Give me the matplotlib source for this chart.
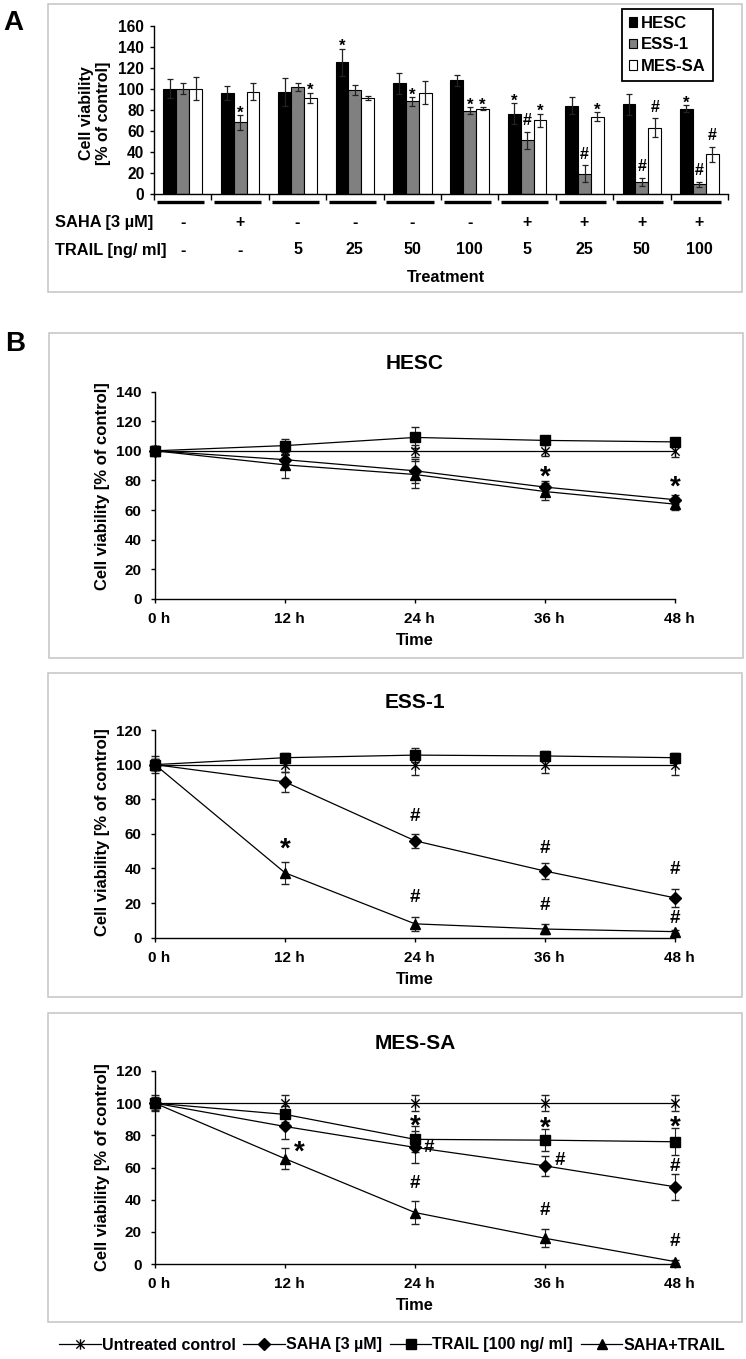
import matplotlib
matplotlib.use('Agg')
import matplotlib.pyplot as plt
import matplotlib.transforms as mtransforms
from matplotlib.lines import Line2D
from matplotlib.patches import Patch, Rectangle
from matplotlib.path import Path
import numpy as np

plt.rcParams['font.family'] = ['Liberation Sans', 'DejaVu Sans']
plt.rcParams['font.weight'] = 'bold'
plt.rcParams['axes.linewidth'] = 1.0

# ---------------- Panel A data ----------------
cell_lines = ['HESC', 'ESS-1', 'MES-SA']
saha_row = ['-', '+', '-', '-', '-', '-', '+', '+', '+', '+']
trail_row = ['-', '-', '5', '25', '50', '100', '5', '25', '50', '100']
hesc_bar = [100, 96, 97, 125, 105, 108, 76, 84, 85, 81]
hesc_bar_err = [9, 7, 13, 13, 10, 5, 10, 8, 10, 3.5]
ess_bar = [100, 68, 101.5, 99, 88, 79, 51, 19, 11, 9]
ess_bar_err = [5, 7, 4, 5, 4, 3.5, 8, 8, 4, 2.5]
mes_bar = [100, 97, 91, 91, 96, 81, 70, 73.5, 63, 37.5]
mes_bar_err = [11, 8, 5, 2, 11, 1.5, 6, 4, 9, 7]
hesc_bar_sig = ['', '', '', '*', '', '', '*', '', '', '*']
ess_bar_sig = ['', '*', '', '', '*', '*', '#', '#', '#', '#']
mes_bar_sig = ['', '', '*', '', '', '*', '*', '*', '#', '#']

# ---------------- Panel B data ----------------
times = [0, 12, 24, 36, 48]
time_labels = ['0 h', '12 h', '24 h', '36 h', '48 h']
series_names = ['Untreated control', 'SAHA [3 µM]', 'TRAIL [100 ng/ ml]', 'SAHA+TRAIL']

hesc_ctrl = [100, 100, 100, 100, 100]
hesc_ctrl_err = [2, 2, 4, 3.7, 4.5]
hesc_saha = [100, 94, 86.5, 75.5, 67]
hesc_saha_err = [3, 3, 8, 4, 3]
hesc_trail = [100, 103.5, 109, 107, 106]
hesc_trail_err = [3, 4.5, 7, 2, 2]
hesc_combo = [100, 90.5, 84, 72.5, 64]
hesc_combo_err = [3, 9, 9, 6, 4]

ess_ctrl = [100, 100, 100, 100, 100]
ess_ctrl_err = [3, 4, 6, 5, 6]
ess_saha = [100, 90, 56, 38.5, 23]
ess_saha_err = [3, 6, 4, 4.5, 5]
ess_trail = [100, 104, 105.5, 105, 104]
ess_trail_err = [5, 3, 4, 3, 3]
ess_combo = [100, 37.5, 8, 5, 3.5]
ess_combo_err = [3, 6.5, 4, 3, 1]

mes_ctrl = [100, 100, 100, 100, 100]
mes_ctrl_err = [5, 5, 5, 5, 5]
mes_saha = [100, 85.5, 72.5, 61, 48]
mes_saha_err = [3, 8, 10, 6, 8]
mes_trail = [100, 93, 77.5, 77, 76]
mes_trail_err = [4, 5, 8, 7, 8.5]
mes_combo = [100, 65.5, 32, 16, 1.5]
mes_combo_err = [3, 6.5, 7, 5.5, 1]

# significance marks: (series index, time index, symbol, placement, dx px, dy px)
hesc_marks = [(1, 3, '*', 'above', 0, 10), (1, 4, '*', 'above', 0, 14)]
ess_marks = [(3, 1, '*', 'above', 0, 18), (1, 2, '#', 'above', 0, 17), (3, 2, '#', 'above', 0, 19),
             (1, 3, '#', 'above', 0, 15), (3, 3, '#', 'above', 0, 18), (1, 4, '#', 'above', 0, 20),
             (3, 4, '#', 'above', 0, 11)]
mes_marks = [(3, 1, '*', 'right', 14, 12), (2, 2, '*', 'above', 0, 6), (1, 2, '#', 'right', 14, 0),
             (2, 3, '*', 'above', 0, 7), (1, 3, '#', 'right', 15, 5), (2, 4, '*', 'above', 0, 6.5),
             (1, 4, '#', 'above', 0, 7), (3, 2, '#', 'above', 0, 17.5), (3, 3, '#', 'above', 0, 18.5),
             (3, 4, '#', 'above', 0, 18.5)]

# ---------------- figure ----------------
W, H = 746, 1359
fig = plt.figure(figsize=(W / 100, H / 100), dpi=100)


def fx(px):
    return px / W


def fy(py):
    return 1 - py / H


def rect(l, r, t, b):
    return [fx(l), fy(b), fx(r) - fx(l), fy(t) - fy(b)]


def px2pt(p):
    return p * 0.72


# panel frames
for (l, r, t, b) in [(48, 742, 4, 292), (48.5, 742.5, 332.7, 658), (48, 742, 672.7, 997), (48, 742, 1012.7, 1322)]:
    fig.add_artist(Rectangle((fx(l), fy(b)), fx(r) - fx(l), fy(t) - fy(b), transform=fig.transFigure,
                             fill=False, edgecolor='#c4c4c4', linewidth=1.1))

fig.text(fx(3), fy(22.5), 'A', fontsize=20, fontweight='bold', va='center', ha='left')
fig.text(fx(5), fy(344), 'B', fontsize=20, fontweight='bold', va='center', ha='left')

# ---------------- Panel A ----------------
axA = fig.add_axes(rect(154, 728, 25.7, 193.7))
x = np.arange(len(saha_row))
bw = 0.223
bar_colors = ['black', '#808080', 'white']
bar_vals = [hesc_bar, ess_bar, mes_bar]
bar_errs = [hesc_bar_err, ess_bar_err, mes_bar_err]
bar_sigs = [hesc_bar_sig, ess_bar_sig, mes_bar_sig]
for k in range(3):
    pos = x + (k - 1) * bw
    axA.bar(pos, bar_vals[k], bw, color=bar_colors[k], edgecolor='black', linewidth=0.8,
            yerr=bar_errs[k], capsize=2.5,
            error_kw=dict(ecolor='#222222', elinewidth=0.9, capthick=0.9), label=cell_lines[k])
    for p, v, e, s in zip(pos, bar_vals[k], bar_errs[k], bar_sigs[k]):
        if not s:
            continue
        if s == '*':
            axA.annotate(s, (p, v + e), xytext=(0, px2pt(6) - 0.23 * 12), textcoords='offset points',
                         ha='center', va='center', fontsize=12, fontweight='bold')
        else:
            axA.annotate(s, (p, v + e), xytext=(0, px2pt(11)), textcoords='offset points',
                         ha='center', va='center', fontsize=11.5, fontweight='bold')

axA.set_xlim(-0.5, len(saha_row) - 0.5)
axA.set_ylim(0, 160)
axA.set_yticks(np.arange(0, 161, 20))
axA.set_xticks([])
axA.set_xticks(np.arange(-0.5, len(saha_row), 1), minor=True)
axA.tick_params(axis='x', which='minor', direction='out', length=4, width=1, labelbottom=False)
axA.tick_params(axis='y', direction='out', length=3, width=1, labelsize=11.2, pad=4)
for sp in ['top', 'right']:
    axA.spines[sp].set_visible(False)
axA.set_ylabel('Cell viability\n[% of control]', fontsize=11.5, fontweight='bold', linespacing=1.15)
axA.yaxis.set_label_coords(-(154 - 111) / 574, (193.7 - 113.5) / 168)

blendA = mtransforms.blended_transform_factory(axA.transData, axA.transAxes)
for i in x:
    axA.plot([i - 0.45, i + 0.37], [-0.05, -0.05], color='black', lw=2.4, transform=blendA,
             clip_on=False, solid_capstyle='butt')
    axA.text(i, (193.7 - 222) / 168, saha_row[i], transform=blendA, ha='center', va='center',
             fontsize=11.5, fontweight='bold')
    axA.text(i, (193.7 - 250) / 168, trail_row[i], transform=blendA, ha='center', va='center',
             fontsize=11.5, fontweight='bold')
fig.text(fx(55), fy(222), 'SAHA [3 µM]', ha='left', va='center', fontsize=11.8, fontweight='bold')
fig.text(fx(55), fy(250), 'TRAIL [ng/ ml]', ha='left', va='center', fontsize=11.8, fontweight='bold')
axA.text((446 - 154) / 574, (193.7 - 278) / 168, 'Treatment', transform=axA.transAxes, ha='center',
         va='center', fontsize=11.8, fontweight='bold')

legA = axA.legend(handles=[Patch(facecolor=c, edgecolor='black', linewidth=0.8) for c in bar_colors],
                  labels=cell_lines, loc='upper left', bbox_to_anchor=(fx(622), fy(9)),
                  bbox_transform=fig.transFigure, borderaxespad=0, fontsize=12, frameon=True,
                  fancybox=False, framealpha=1, edgecolor='black', handlelength=0.5, handleheight=0.5,
                  handletextpad=0.25, labelspacing=0.4, borderpad=0.4)
legA.get_frame().set_linewidth(1.3)

# ---------------- Panel B ----------------
star_path = Path([(-1, -1), (1, 1), (-1, 1), (1, -1), (0, -1.25), (0, 1.25)],
                 [Path.MOVETO, Path.LINETO, Path.MOVETO, Path.LINETO, Path.MOVETO, Path.LINETO])
markers = [star_path, 'D', 's', '^']
msizes = [7.5, 6, 7, 7]


def line_panel(ax, title, ymax, data, marks, lab_y):
    means = [d[0] for d in data]
    errs = [d[1] for d in data]
    for k in range(4):
        mfc = 'none' if k == 0 else 'black'
        cont = ax.errorbar(times, means[k], yerr=errs[k], color='black', lw=0.9, marker=markers[k],
                           ms=msizes[k], mfc=mfc, mec='black', mew=1.0, capsize=3, elinewidth=0.8,
                           capthick=0.8, ecolor='#222222')
        for art in cont.get_children():
            art.set_clip_on(False)
    for (si, ti, sym, place, dx, dy) in marks:
        t = times[ti]
        if place == 'above':
            anchor = (t, means[si][ti] + errs[si][ti])
        else:
            anchor = (t, means[si][ti])
        if sym == '*':
            fs = 20
            oy = px2pt(dy) - 0.23 * fs
        else:
            fs = 13.5
            oy = px2pt(dy)
        ax.annotate(sym, anchor, xytext=(px2pt(dx), oy), textcoords='offset points', ha='center',
                    va='center', fontsize=fs, fontweight='bold')
    ax.set_xlim(0, 48)
    ax.set_ylim(0, ymax)
    ax.set_xticks(times)
    ax.set_xticklabels(time_labels)
    ax.set_yticks(np.arange(0, ymax + 1, 20))
    for sp in ['top', 'right']:
        ax.spines[sp].set_visible(False)
    ax.tick_params(axis='both', direction='out', length=3, width=1, labelsize=11)
    ax.tick_params(axis='x', pad=6.3)
    ax.tick_params(axis='y', pad=6.5)
    shift = mtransforms.ScaledTranslation(4 / 100, 0, fig.dpi_scale_trans)
    for lab in ax.get_xticklabels():
        lab.set_transform(lab.get_transform() + shift)
    ax.set_title(title, fontsize=15, fontweight='bold', pad=16)
    ax.set_xlabel('Time', fontsize=11.8, fontweight='bold', labelpad=5.3)
    ax.set_ylabel('Cell viability [% of control]', fontsize=12, fontweight='bold')
    ax.yaxis.set_label_coords(-(155 - 110) / 520, lab_y)


ax1 = fig.add_axes(rect(155, 675, 391.5, 599))
line_panel(ax1, 'HESC', 140,
           [(hesc_ctrl, hesc_ctrl_err), (hesc_saha, hesc_saha_err), (hesc_trail, hesc_trail_err),
            (hesc_combo, hesc_combo_err)], hesc_marks, 0.545)
ax2 = fig.add_axes(rect(155, 675, 730, 937.7))
line_panel(ax2, 'ESS-1', 120,
           [(ess_ctrl, ess_ctrl_err), (ess_saha, ess_saha_err), (ess_trail, ess_trail_err),
            (ess_combo, ess_combo_err)], ess_marks, 0.51)
ax3 = fig.add_axes(rect(155, 675, 1071, 1264))
line_panel(ax3, 'MES-SA', 120,
           [(mes_ctrl, mes_ctrl_err), (mes_saha, mes_saha_err), (mes_trail, mes_trail_err),
            (mes_combo, mes_combo_err)], mes_marks, 0.5)

handles = [Line2D([], [], color='black', lw=0.9, marker=markers[k], ms=msizes[k],
                  mfc='none' if k == 0 else 'black', mec='black', mew=1.0) for k in range(4)]
fig.legend(handles=handles, labels=series_names, loc='center', bbox_to_anchor=(fx(392), fy(1345)),
           ncol=4, frameon=False, fontsize=11.5, handlelength=2.6, handletextpad=0.05,
           columnspacing=0.5, borderpad=0, borderaxespad=0)

fig.savefig('out.png', dpi=100)
